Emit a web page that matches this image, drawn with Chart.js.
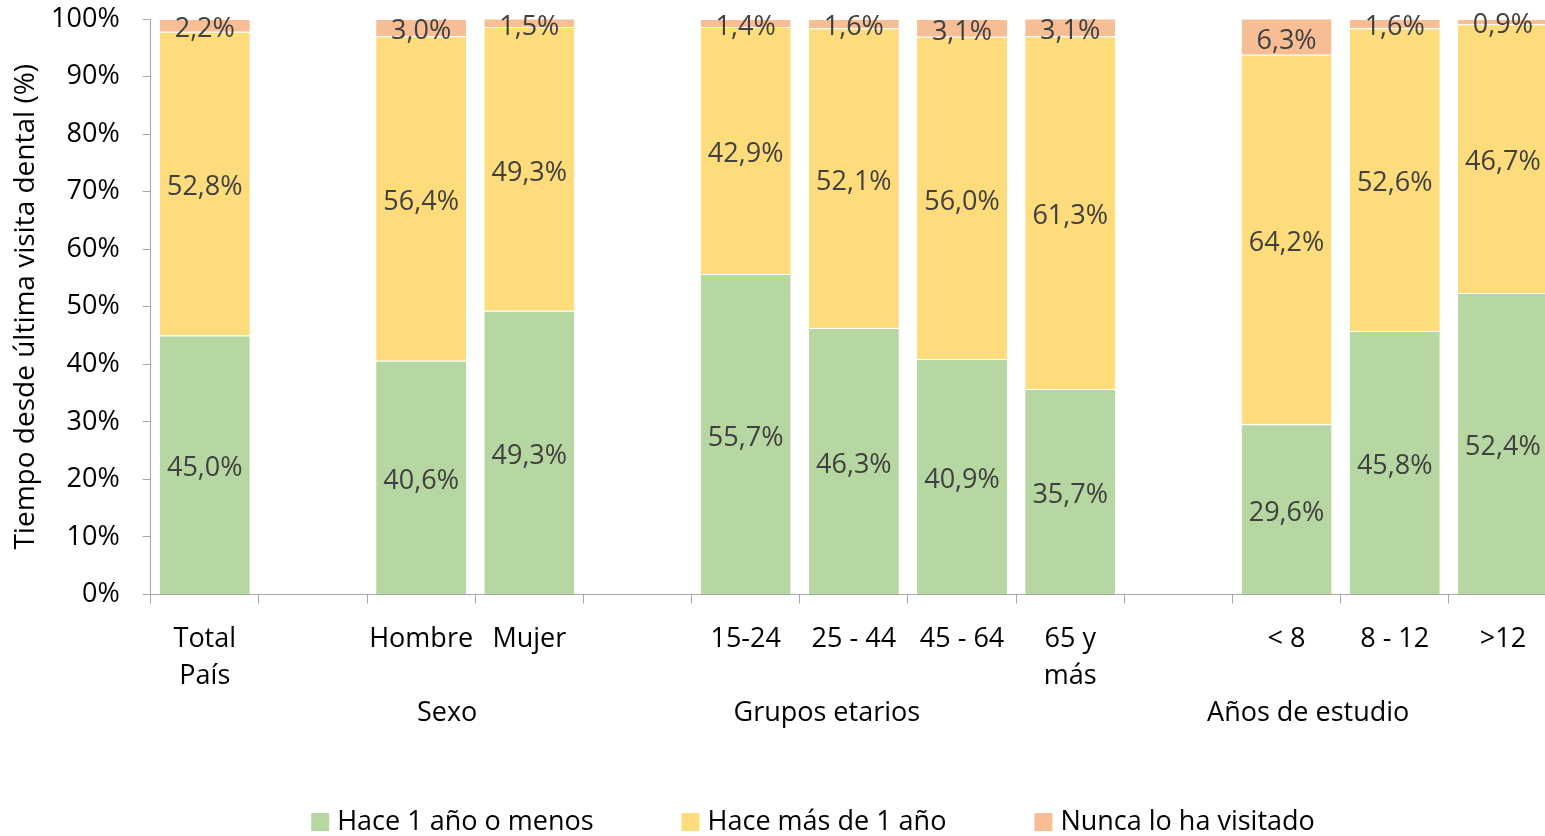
<!DOCTYPE html>
<html lang="es">
<head>
<meta charset="utf-8">
<title>Tiempo desde última visita dental</title>
<script src="https://cdn.jsdelivr.net/npm/chart.js@4/dist/chart.umd.min.js"></script>
<style>
  html, body { margin: 0; padding: 0; background: #fff; overflow: hidden; }
  #wrap { width: 1560px; height: 836px; }
</style>
</head>
<body>
<div id="wrap"><canvas id="chartVisita" width="1560" height="836"></canvas></div>
<script>
// categorias (los huecos vacios separan los grupos)
const categorias = [
    ["Total", "País"], "", "Hombre", "Mujer", "",
    "15-24", "25 - 44", "45 - 64", ["65 y", "más"], "",
    "< 8", "8 - 12", ">12",
];

// valores en %
const haceUnAnio = [45.0, null, 40.6, 49.3, null, 55.7, 46.3, 40.9, 35.7, null, 29.6, 45.8, 52.4];
const masDeUnAnio = [52.8, null, 56.4, 49.3, null, 42.9, 52.1, 56.0, 61.3, null, 64.2, 52.6, 46.7];
const nuncaVisitado = [2.2, null, 3.0, 1.5, null, 1.4, 1.6, 3.1, 3.1, null, 6.3, 1.6, 0.9];

// etiquetas de grupo (segundo nivel del eje x) y su posicion en indices de categoria
const grupos = ["Sexo", "Grupos etarios", "Años de estudio"];
const gruposPos = [2.24, 5.75, 10.2];

const yTicks = [0, 10, 20, 30, 40, 50, 60, 70, 80, 90, 100];

const FONT = "'Open Sans', 'DejaVu Sans', sans-serif";
const gris = "#a6a6a6";

const formato = (v) => v.toFixed(1).replace(".", ",") + "%";

// etiquetas de datos dentro de cada segmento
const etiquetasDatos = {
    id: "etiquetasDatos",
    afterDatasetsDraw(chart) {
        const ctx = chart.ctx;
        ctx.save();
        ctx.font = "27px " + FONT;
        ctx.fillStyle = "#404040";
        ctx.textAlign = "center";
        ctx.textBaseline = "middle";
        chart.data.datasets.forEach((ds, i) => {
            const meta = chart.getDatasetMeta(i);
            meta.data.forEach((bar, j) => {
                const v = ds.data[j];
                if (v == null) return;
                const { x, y, base } = bar.getProps(["x", "y", "base"], true);
                const top = Math.max(y, chart.chartArea.top);
                ctx.fillText(formato(v), x, (top + base) / 2 + 4);
            });
        });
        ctx.restore();
    },
};

// segundo nivel de etiquetas + leyenda abajo
const extras = {
    id: "extras",
    afterDraw(chart) {
        const ctx = chart.ctx;
        const xs = chart.scales.x;
        ctx.save();
        ctx.font = "27px " + FONT;
        ctx.fillStyle = "#000";
        ctx.textAlign = "center";
        ctx.textBaseline = "middle";
        grupos.forEach((g, i) => {
            ctx.fillText(g, xs.getPixelForValue(gruposPos[i]), chart.chartArea.bottom + 119);
        });

        // leyenda
        const caja = 18, sep = 8, hueco = 88;
        const items = chart.data.datasets.map((ds) => ({
            label: ds.label,
            color: ds.backgroundColor,
            w: caja + sep + ctx.measureText(ds.label).width,
        }));
        const total = items.reduce((s, it) => s + it.w, 0) + hueco * (items.length - 1);
        let x = 813 - total / 2;
        const yc = 822;
        ctx.textAlign = "left";
        items.forEach((it) => {
            ctx.fillStyle = it.color;
            ctx.fillRect(x, yc - caja / 2, caja, caja);
            ctx.fillStyle = "#000";
            ctx.fillText(it.label, x + caja + sep, yc);
            x += it.w + hueco;
        });
        ctx.restore();
    },
};

const ctx = document.getElementById("chartVisita");

new Chart(ctx, {
    type: "bar",
    data: {
        labels: categorias,
        datasets: [
            {
                label: "Hace 1 año o menos",
                data: haceUnAnio,
                backgroundColor: "#b6d7a1",
            },
            {
                label: "Hace más de 1 año",
                data: masDeUnAnio,
                backgroundColor: "#fedb7b",
            },
            {
                label: "Nunca lo ha visitado",
                data: nuncaVisitado,
                backgroundColor: "#f7be96",
            },
        ],
    },
    options: {
        responsive: false,
        animation: false,
        datasets: {
            bar: {
                barPercentage: 0.832,
                categoryPercentage: 1,
                borderColor: "#ffffff",
                borderWidth: { top: 1 },
            },
        },
        layout: { padding: { top: 19, right: 3, bottom: 0, left: 0 } },
        plugins: {
            legend: { display: false },
            tooltip: { enabled: false },
        },
        scales: {
            x: {
                stacked: true,
                afterFit: (scale) => { scale.height = 241.5; },
                border: { color: gris, width: 1 },
                grid: {
                    offset: true,
                    drawOnChartArea: false,
                    drawTicks: true,
                    tickLength: 9,
                    color: gris,
                },
                ticks: {
                    color: "#000",
                    padding: 17,
                    maxRotation: 0,
                    autoSkip: false,
                    font: { family: FONT, size: 27, lineHeight: 1.37 },
                },
            },
            y: {
                stacked: true,
                min: 0,
                max: 100,
                afterFit: (scale) => {
                    scale.width = 150.7;
                    scale.paddingTop = 0;
                    scale.paddingBottom = 0;
                },
                afterBuildTicks: (scale) => {
                    scale.ticks = yTicks.map((v) => ({ value: v }));
                },
                border: { color: gris, width: 1 },
                grid: {
                    drawOnChartArea: false,
                    drawTicks: true,
                    tickLength: 8,
                    color: gris,
                },
                ticks: {
                    color: "#000",
                    padding: 23,
                    font: { family: FONT, size: 27 },
                    callback: (v) => v + "%",
                },
                title: {
                    display: true,
                    text: "Tiempo desde última visita dental (%)",
                    color: "#000",
                    padding: { top: 9, bottom: 0 },
                    font: { family: FONT, size: 28 },
                },
            },
        },
    },
    plugins: [etiquetasDatos, extras],
});
</script>
</body>
</html>
